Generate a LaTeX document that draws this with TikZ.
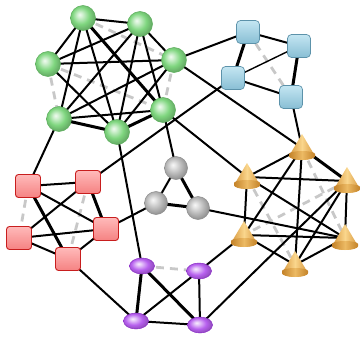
\documentclass[tikz,border=0pt]{standalone}
\usetikzlibrary{shapes.geometric,backgrounds}
\colorlet{ballc}{gray}
\pgfdeclareradialshading[ballc]{myball}{\pgfpoint{-7bp}{7bp}}{color(0bp)=(ballc!12!white); color(5bp)=(ballc!35!white); color(17bp)=(ballc); color(27bp)=(ballc!80!black); color(50bp)=(ballc!80!black)}
\definecolor{gre}{HTML}{7FD67F}
\definecolor{greb}{HTML}{5AAE5A}
\definecolor{gry}{HTML}{B8B8B8}
\definecolor{gryb}{HTML}{8A8A8A}
\definecolor{pur}{HTML}{B760EE}
\definecolor{purb}{HTML}{8A2BC8}
\definecolor{dashc}{HTML}{C8C8C8}
\tikzset{
  ballsh/.style={shade, shading=myball, /utils/exec={\colorlet{ballc}{#1}}},
  gnode/.style={circle, inner sep=0pt, minimum size=25pt, ballsh=gre, draw=greb, line width=0.5pt},
  snode/.style={circle, inner sep=0pt, minimum size=23pt, ballsh=gry, draw=gryb, line width=0.5pt},
  pnode/.style={ellipse, inner sep=0pt, minimum width=25pt, minimum height=16pt, ballsh=pur, draw=purb, line width=0.5pt},
  bnode/.style={rectangle, rounded corners=4pt, inner sep=0pt, minimum size=23pt, top color={rgb,255:red,196;green,230;blue,242}, bottom color={rgb,255:red,136;green,190;blue,212}, draw={rgb,255:red,92;green,146;blue,170}, line width=0.7pt},
  rnode/.style={rectangle, rounded corners=3pt, inner sep=0pt, minimum width=25pt, minimum height=23pt, top color={rgb,255:red,255;green,186;blue,186}, bottom color={rgb,255:red,245;green,130;blue,130}, draw={rgb,255:red,200;green,30;blue,30}, line width=0.9pt},
  tnode/.style={coordinate},
  edgeb/.style={draw=black, line width=2pt},
  edgeB/.style={draw=black, line width=3pt},
  edgeb2/.style={draw=black, line width=1.4pt},
  edged/.style={draw=dashc, line width=2.8pt, dash pattern=on 8pt off 6pt},
  cone/.pic={
    \shade[left color={rgb,255:red,214;green,150;blue,60}, right color={rgb,255:red,214;green,150;blue,60}, middle color={rgb,255:red,250;green,214;blue,140}]
      (-13,8) -- (0,-14) -- (13,8) arc[start angle=0, end angle=180, x radius=13, y radius=4] -- cycle;
    \shade[left color={rgb,255:red,196;green,130;blue,40}, right color={rgb,255:red,196;green,130;blue,40}, middle color={rgb,255:red,236;green,186;blue,100}]
      (-13,6) arc[start angle=180, end angle=360, x radius=13, y radius=3] -- (13,8) arc[start angle=0, end angle=180, x radius=13, y radius=4] -- cycle;
  }
}
\begin{document}
\begin{tikzpicture}[x=1pt, y=-1pt]
\useasboundingbox (0,0) rectangle (361,337);
% green
\node[gnode] (G1) at (83,18) {};
\node[gnode] (G2) at (140,24) {};
\node[gnode] (G3) at (174,60) {};
\node[gnode] (G4) at (48,64) {};
\node[gnode] (G5) at (163,110) {};
\node[gnode] (G6) at (59,119) {};
\node[gnode] (G7) at (117,132) {};
% blue
\node[bnode] (B1) at (248,32) {};
\node[bnode] (B2) at (299,46) {};
\node[bnode] (B3) at (233,78) {};
\node[bnode] (B4) at (291,97) {};
% red
\node[rnode] (R1) at (28,186) {};
\node[rnode] (R2) at (88,182) {};
\node[rnode] (R3) at (106,229) {};
\node[rnode] (R4) at (19,238) {};
\node[rnode] (R5) at (68,259) {};
% gray
\node[snode] (S1) at (176,168) {};
\node[snode] (S2) at (156,203) {};
\node[snode] (S3) at (198,208) {};
% purple
\node[pnode] (P1) at (142,266) {};
\node[pnode] (P2) at (136,321) {};
\node[pnode] (P3) at (199,271) {};
\node[pnode] (P4) at (200,325) {};
% cones
\node[tnode] (T1) at (302,148) {};
\node[tnode] (T2) at (247,177) {};
\node[tnode] (T3) at (347,181) {};
\node[tnode] (T4) at (244,235) {};
\node[tnode] (T5) at (345,238) {};
\node[tnode] (T6) at (295,265) {};
\foreach \t in {T1,T2,T3,T4,T5,T6} \pic at (\t) {cone};
\begin{pgfonlayer}{background}
% dashed
\foreach \a/\b in {G1/G3,G3/G5,G4/G5,G4/G6,B1/B4,R1/R4,R2/R5,P1/P3,T1/T5,T2/T6,T3/T4}
  \draw[edged] (\a.center) -- (\b.center);
% black normal
\foreach \a/\b in {G1/G2,G1/G4,G1/G6,G1/G7,G2/G3,G2/G4,G2/G5,G2/G6,G2/G7,G3/G4,G3/G6,G3/G7,G4/G7,G5/G6,
  B1/B2,B3/B4,
  R1/R2,R1/R3,R2/R4,R3/R4,R3/R5,R4/R5,
  S1/S2,
  P2/P3,P2/P4,P3/P4,
  T1/T2,T1/T4,T1/T6,T2/T3,T2/T4,T2/T5,T3/T5,T3/T6,T4/T5,T4/T6,T5/T6,
  G3/B1,G3/T1,R2/B3,R1/G6,G7/P1,G5/S1,G5/T2,B4/T1,R3/S2,S3/T5,R5/P2,P3/T4,P4/T3}
  \draw[edgeb] (\a.center) -- (\b.center);
\draw[edgeb2] (B2.center) -- (B3.center);
% black thick
\foreach \a/\b in {G1/G5,G5/G7,G6/G7,B1/B3,B2/B4,R1/R5,R2/R3,S1/S3,S2/S3,P1/P2,P1/P4,T1/T3}
  \draw[edgeB] (\a.center) -- (\b.center);
\end{pgfonlayer}
\end{tikzpicture}
\end{document}
